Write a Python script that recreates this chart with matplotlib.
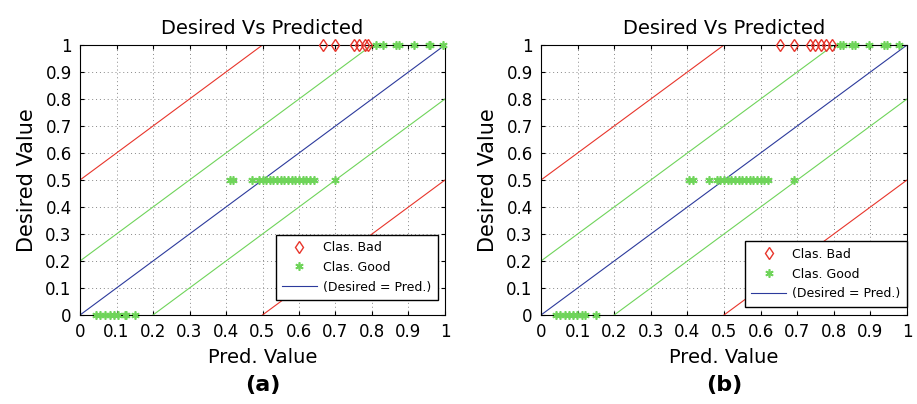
import numpy as np
import matplotlib
matplotlib.use("Agg")
import matplotlib.pyplot as plt

# ---- data ----
# panel (a)
a_bad_x = [0.665, 0.70, 0.75, 0.765, 0.78, 0.79]
a_good_x1 = [0.81, 0.83, 0.865, 0.875, 0.915, 0.955, 0.96, 0.995]
a_good_x05 = [0.41, 0.42, 0.47, 0.49, 0.50, 0.51, 0.52, 0.53, 0.54, 0.55,
              0.56, 0.57, 0.58, 0.59, 0.60, 0.61, 0.62, 0.63, 0.64, 0.70]
a_good_x0 = [0.045, 0.056, 0.069, 0.082, 0.094, 0.103, 0.122, 0.125, 0.151]

# panel (b)
b_bad_x = [0.653, 0.691, 0.735, 0.749, 0.764, 0.780, 0.795]
b_good_x1 = [0.817, 0.826, 0.85, 0.859, 0.897, 0.937, 0.944, 0.979]
b_good_x05 = [0.405, 0.415, 0.46, 0.48, 0.49, 0.50, 0.51, 0.52, 0.53, 0.54,
              0.55, 0.56, 0.57, 0.58, 0.59, 0.60, 0.61, 0.62, 0.69]
b_good_x0 = [0.041, 0.052, 0.065, 0.076, 0.088, 0.099, 0.112, 0.121, 0.150]

ticks = [0, 0.1, 0.2, 0.3, 0.4, 0.5, 0.6, 0.7, 0.8, 0.9, 1]
tick_labels = ["0", "0.1", "0.2", "0.3", "0.4", "0.5", "0.6", "0.7", "0.8", "0.9", "1"]
band_offsets = [0.5, 0.2]   # red band, green band around Desired = Pred.

RED = "#e8352b"
GREEN = "#6fd45a"
BLUE = "#2c3a9c"


def draw_panel(ax, bad_x, good_x1, good_x05, good_x0, leg_anchor, letter):
    xs = np.array([0.0, 1.0])
    # tolerance lines
    ax.plot(xs, xs + band_offsets[0], color=RED, lw=0.8)
    ax.plot(xs, xs - band_offsets[0], color=RED, lw=0.8)
    ax.plot(xs, xs + band_offsets[1], color=GREEN, lw=0.8)
    ax.plot(xs, xs - band_offsets[1], color=GREEN, lw=0.8)

    good_x = list(good_x1) + list(good_x05) + list(good_x0)
    good_y = [1] * len(good_x1) + [0.5] * len(good_x05) + [0] * len(good_x0)

    hb, = ax.plot(bad_x, [1] * len(bad_x), linestyle="none", marker="d",
                  ms=6.5, mfc="none", mec=RED, mew=1.0, label="Clas. Bad",
                  clip_on=False, zorder=5)
    hg, = ax.plot(good_x, good_y, linestyle="none", marker=(6, 2, 0), ms=6,
                  color=GREEN, mew=1.2, label="Clas. Good", clip_on=False,
                  zorder=5)
    hl, = ax.plot(xs, xs, color=BLUE, lw=0.8, label="(Desired = Pred.)")

    ax.set_xlim(0, 1)
    ax.set_ylim(0, 1)
    ax.set_xticks(ticks)
    ax.set_yticks(ticks)
    ax.set_xticklabels(tick_labels)
    ax.set_yticklabels(tick_labels)
    ax.tick_params(direction="in", top=True, right=True, labelsize=12,
                   length=3, pad=6)
    ax.grid(True, linestyle=(0, (1, 3)), color="#888888", lw=0.7)
    for s in ax.spines.values():
        s.set_linewidth(0.8)

    ax.set_title("Desired Vs Predicted", fontsize=14, pad=8)
    ax.set_xlabel("Pred. Value", fontsize=14, labelpad=5)
    ax.set_ylabel("Desired Value", fontsize=15, labelpad=6)

    leg = ax.legend(handles=[hb, hg, hl], loc="lower right",
                    bbox_to_anchor=leg_anchor, fontsize=9, fancybox=False,
                    framealpha=1, edgecolor="black", handlelength=2.8,
                    handletextpad=0.5, borderpad=0.5, labelspacing=0.55,
                    borderaxespad=0)
    leg.get_frame().set_linewidth(1.0)

    ax.text(0.5, -0.26, letter, transform=ax.transAxes, ha="center",
            va="center", fontsize=16, fontweight="bold")


fig = plt.figure(figsize=(9.17, 4.04), dpi=100)
ax1 = fig.add_axes([80 / 917, 89 / 404, 365 / 917, 270 / 404])
ax2 = fig.add_axes([541 / 917, 89 / 404, 366 / 917, 270 / 404])

draw_panel(ax1, a_bad_x, a_good_x1, a_good_x05, a_good_x0, (0.98, 0.056), "(a)")
draw_panel(ax2, b_bad_x, b_good_x1, b_good_x05, b_good_x0, (1.0, 0.031), "(b)")

fig.savefig("out.png", dpi=100)
